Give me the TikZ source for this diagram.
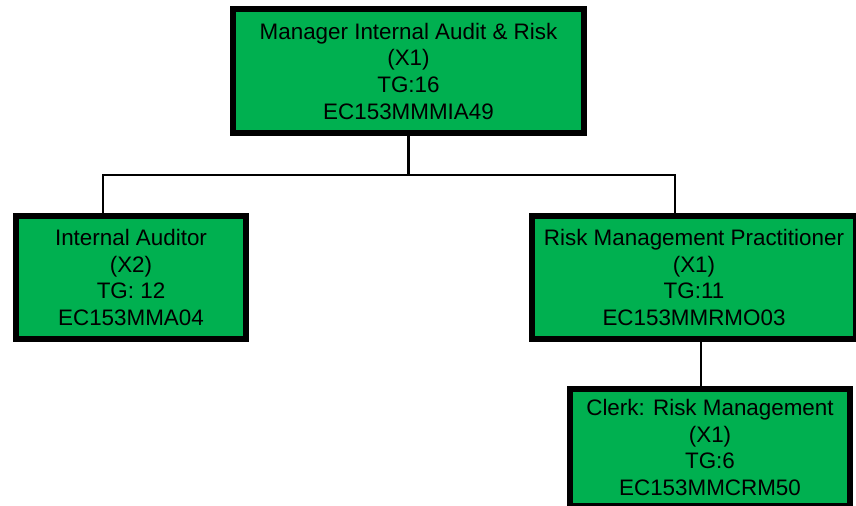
\documentclass[tikz,border=0pt]{standalone}
\usepackage{fontspec}
\setmainfont{Liberation Sans}
\usepackage{xcolor}
\definecolor{postgreen}{HTML}{00B050}

\begin{document}
\begin{tikzpicture}[x=0.75pt, y=-0.75pt,
    post/.style={draw=black, line width=4.5pt, fill=postgreen, align=center,
                 inner sep=0pt, font={\fontsize{16.8}{20}\selectfont}},
    link/.style={draw=black, line width=2pt}]
                  \useasboundingbox (0, 0) rectangle (856, 506);

                  \node[post, minimum width=263.25pt, minimum height=93pt] (mgr) at (408.5, 71)
                      {Manager Internal Audit \& Risk\\(X1)\\TG:16\\EC153MMMIA49};
                  \node[post, minimum width=172.5pt, minimum height=92.25pt] (ia) at (131, 277.5)
                      {Internal Auditor\\(X2)\\TG: 12\\EC153MMA04};
                  \node[post, minimum width=243pt, minimum height=92.25pt] (rmp) at (694, 277.5)
                      {Risk Management Practitioner\\(X1)\\TG:11\\EC153MMRMO03};
                  \node[post, minimum width=210pt, minimum height=87.75pt] (clerk) at (710, 447.5)
                      {Clerk: Risk Management\\(X1)\\TG:6\\EC153MMCRM50};

                  \coordinate (busL) at (103, 175);
                  \coordinate (busR) at (675, 175);

                  \draw[link] (mgr.south) -- (mgr.south |- busL);
                  \draw[link] (busL |- ia.north) -- (busL) -- (busR) -- (busR |- rmp.north);
                  \draw[link] (rmp.south -| 701, 0) -- (clerk.north -| 701, 0);
              \end{tikzpicture}
\end{document}
